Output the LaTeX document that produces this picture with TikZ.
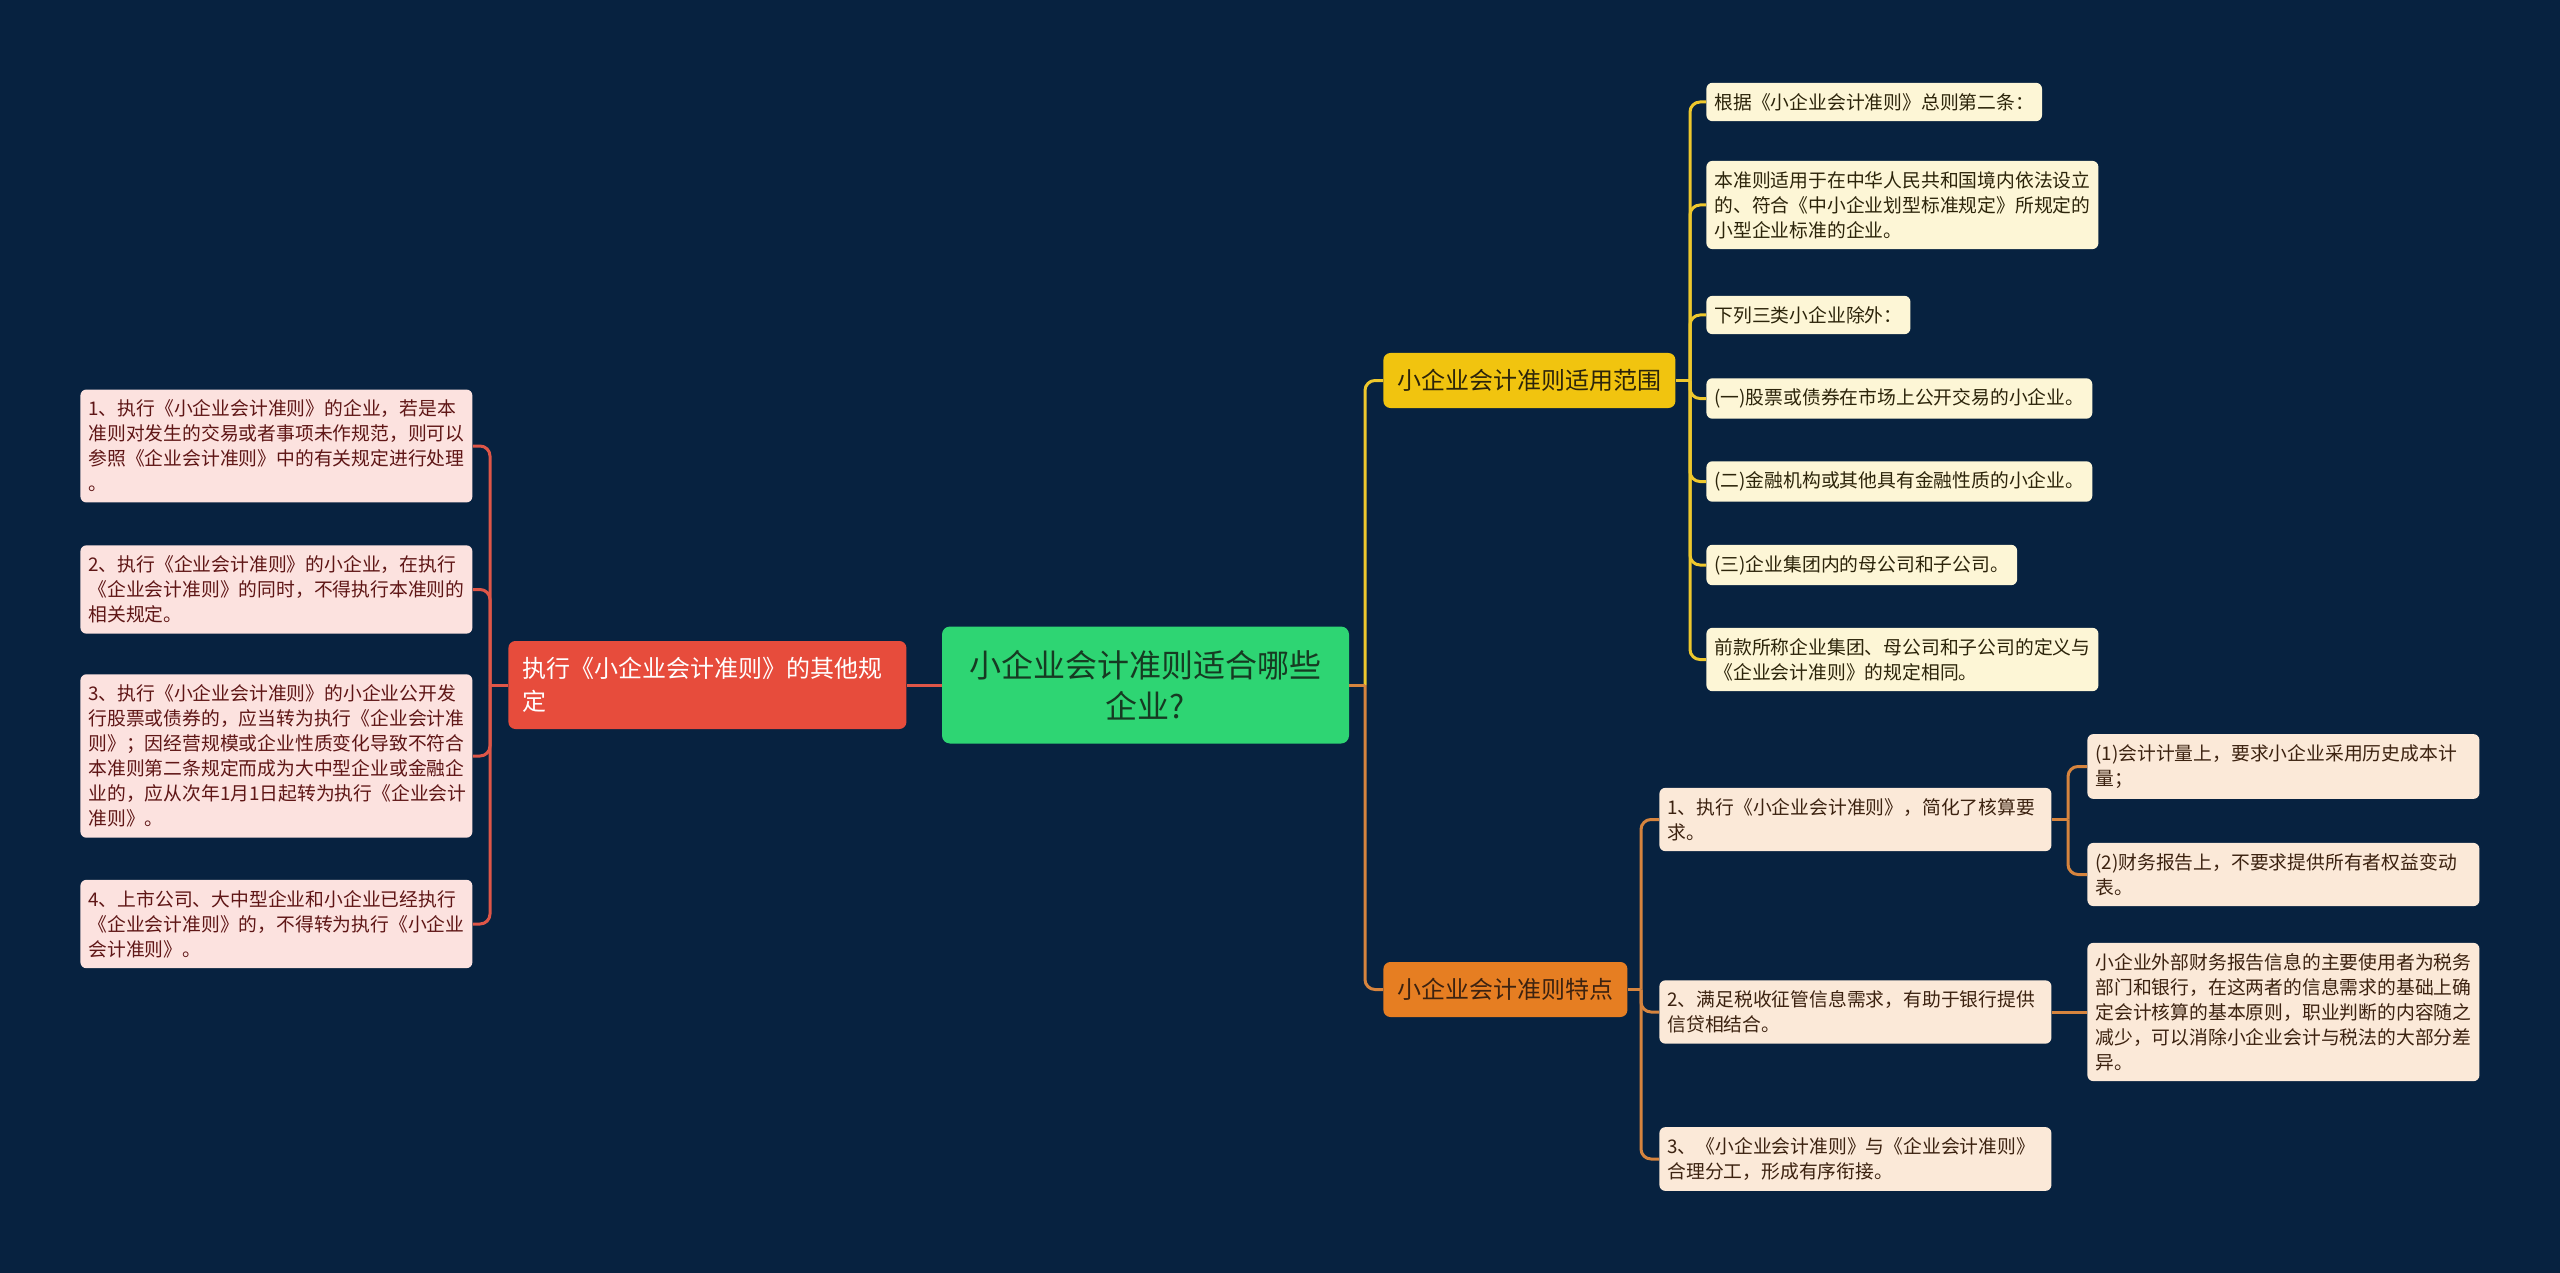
\documentclass[tikz,border=0pt]{standalone}
\usepackage{fontspec}
\setmainfont{Noto Sans CJK SC}
\usepackage{tikz}
\usetikzlibrary{positioning}

\definecolor{bgnavy}{RGB}{7,34,64}
\definecolor{rootgreen}{RGB}{46,213,115}
\definecolor{rootink}{RGB}{22,58,34}
\definecolor{rulered}{RGB}{231,76,60}
\definecolor{rulelink}{RGB}{222,86,72}
\definecolor{rulefill}{RGB}{252,226,223}
\definecolor{ruleink}{RGB}{95,22,22}
\definecolor{scopeyellow}{RGB}{241,196,15}
\definecolor{scopelink}{RGB}{238,200,45}
\definecolor{scopefill}{RGB}{253,246,214}
\definecolor{scopeink}{RGB}{44,36,10}
\definecolor{featorange}{RGB}{230,126,34}
\definecolor{featlink}{RGB}{214,132,62}
\definecolor{featfill}{RGB}{251,233,216}
\definecolor{featink}{RGB}{60,34,16}

\begin{document}
\begin{tikzpicture}[x=0.5pt,y=-0.5pt]

% ---- Styles ----
\tikzset{
  rootbox/.style={rectangle, rounded corners=4pt, fill=rootgreen, text=rootink,
                  align=center, minimum width=203.5pt, minimum height=58.5pt,
                  font=\fontsize{16pt}{20.5pt}\selectfont},
  branchbox/.style={rectangle, rounded corners=3.5pt, align=center,
                    inner xsep=7pt, minimum height=27.5pt,
                    font=\fontsize{12pt}{16.5pt}\selectfont},
  leafbox/.style={rectangle, rounded corners=3pt, align=left,
                  inner xsep=4pt, inner ysep=5.2pt,
                  font=\fontsize{9.4pt}{12.5pt}\selectfont},
  widebox/.style={leafbox, text width=188pt},
  link/.style={line width=1.5pt, rounded corners=5pt},
}

% --- background / page size ---
\fill[bgnavy] (0,0) rectangle (2560,1273);

% --- Root ---
\node[rootbox] (root) at (1145.5,685) {小企业会计准则适合哪些\\企业?};

% --- Left branch ---
\node[branchbox, anchor=west, fill=rulered, text=white, align=left,
      text width=185pt, minimum height=44pt] (rule) at (508,685)
  {执行《小企业会计准则》的其他规\\定};

\node[widebox, anchor=west, fill=rulefill, text=ruleink] (r1) at (80,446)
  {1、执行《小企业会计准则》的企业，若是本\\准则对发生的交易或者事项未作规范，则可以\\参照《企业会计准则》中的有关规定进行处理\\。};
\node[widebox, anchor=west, fill=rulefill, text=ruleink] (r2) at (80,589.5)
  {2、执行《企业会计准则》的小企业，在执行\\《企业会计准则》的同时，不得执行本准则的\\相关规定。};
\node[widebox, anchor=west, fill=rulefill, text=ruleink] (r3) at (80,756)
  {3、执行《小企业会计准则》的小企业公开发\\行股票或债券的，应当转为执行《企业会计准\\则》；因经营规模或企业性质变化导致不符合\\本准则第二条规定而成为大中型企业或金融企\\业的，应从次年1月1日起转为执行《企业会计\\准则》。};
\node[widebox, anchor=west, fill=rulefill, text=ruleink] (r4) at (80,924)
  {4、上市公司、大中型企业和小企业已经执行\\《企业会计准则》的，不得转为执行《小企业\\会计准则》。};

% --- Right branch: scope ---
\node[branchbox, anchor=west, fill=scopeyellow, text=scopeink,
      minimum width=144.5pt] (scope) at (1383,380.5) {小企业会计准则适用范围};

\node[leafbox, anchor=west, fill=scopefill, text=scopeink] (s1) at (1706,102)
  {根据《小企业会计准则》总则第二条：};
\node[widebox, anchor=west, fill=scopefill, text=scopeink] (s2) at (1706,205)
  {本准则适用于在中华人民共和国境内依法设立\\的、符合《中小企业划型标准规定》所规定的\\小型企业标准的企业。};
\node[leafbox, anchor=west, fill=scopefill, text=scopeink] (s3) at (1706,315)
  {下列三类小企业除外：};
\node[leafbox, anchor=west, fill=scopefill, text=scopeink] (s4) at (1706,398.5)
  {(一)股票或债券在市场上公开交易的小企业。};
\node[leafbox, anchor=west, fill=scopefill, text=scopeink] (s5) at (1706,481.5)
  {(二)金融机构或其他具有金融性质的小企业。};
\node[leafbox, anchor=west, fill=scopefill, text=scopeink] (s6) at (1706,565)
  {(三)企业集团内的母公司和子公司。};
\node[widebox, anchor=west, fill=scopefill, text=scopeink] (s7) at (1706,659.5)
  {前款所称企业集团、母公司和子公司的定义与\\《企业会计准则》的规定相同。};

% --- Right branch: features ---
\node[branchbox, anchor=west, fill=featorange, text=featink,
      minimum width=121pt] (feat) at (1383,989.5) {小企业会计准则特点};

\node[widebox, anchor=west, fill=featfill, text=featink] (f1) at (1659,819.5)
  {1、执行《小企业会计准则》，简化了核算要\\求。};
\node[widebox, anchor=west, fill=featfill, text=featink] (f2) at (1659,1012)
  {2、满足税收征管信息需求，有助于银行提供\\信贷相结合。};
\node[widebox, anchor=west, fill=featfill, text=featink] (f3) at (1659,1159)
  {3、《小企业会计准则》与《企业会计准则》\\合理分工，形成有序衔接。};

\node[widebox, anchor=west, fill=featfill, text=featink] (g1) at (2087,766.5)
  {(1)会计计量上，要求小企业采用历史成本计\\量；};
\node[widebox, anchor=west, fill=featfill, text=featink] (g2) at (2087,874.5)
  {(2)财务报告上，不要求提供所有者权益变动\\表。};
\node[widebox, anchor=west, fill=featfill, text=featink] (g3) at (2087,1012)
  {小企业外部财务报告信息的主要使用者为税务\\部门和银行，在这两者的信息需求的基础上确\\定会计核算的基本原则，职业判断的内容随之\\减少，可以消除小企业会计与税法的大部分差\\异。};

% --- Connectors ---
\coordinate (lbus) at (490,685);
\coordinate (rbus) at (1365,685);
\coordinate (sbus) at (1690,380.5);
\coordinate (fbus) at (1641,989.5);
\coordinate (gbus) at (2068,819.5);

\draw[link, rulelink] (root.west) -- (rule.east);
\draw[link, rulelink] (rule.west) -- (lbus);
\draw[link, rulelink] (lbus) |- (r1.east);
\draw[link, rulelink] (lbus) |- (r2.east);
\draw[link, rulelink] (lbus) |- (r3.east);
\draw[link, rulelink] (lbus) |- (r4.east);

\draw[link, scopelink] (rbus) |- (scope.west);
\draw[link, featlink] (root.east) -- (rbus);
\draw[link, featlink] (rbus) |- (feat.west);

\draw[link, scopelink] (scope.east) -- (sbus);
\draw[link, scopelink] (sbus) |- (s1.west);
\draw[link, scopelink] (sbus) |- (s2.west);
\draw[link, scopelink] (sbus) |- (s3.west);
\draw[link, scopelink] (sbus) |- (s4.west);
\draw[link, scopelink] (sbus) |- (s5.west);
\draw[link, scopelink] (sbus) |- (s6.west);
\draw[link, scopelink] (sbus) |- (s7.west);

\draw[link, featlink] (feat.east) -- (fbus);
\draw[link, featlink] (fbus) |- (f1.west);
\draw[link, featlink] (fbus) |- (f2.west);
\draw[link, featlink] (fbus) |- (f3.west);

\draw[link, featlink] (f1.east) -- (gbus);
\draw[link, featlink] (gbus) |- (g1.west);
\draw[link, featlink] (gbus) |- (g2.west);
\draw[link, featlink] (f2.east) -- (g3.west);

\end{tikzpicture}
\end{document}
